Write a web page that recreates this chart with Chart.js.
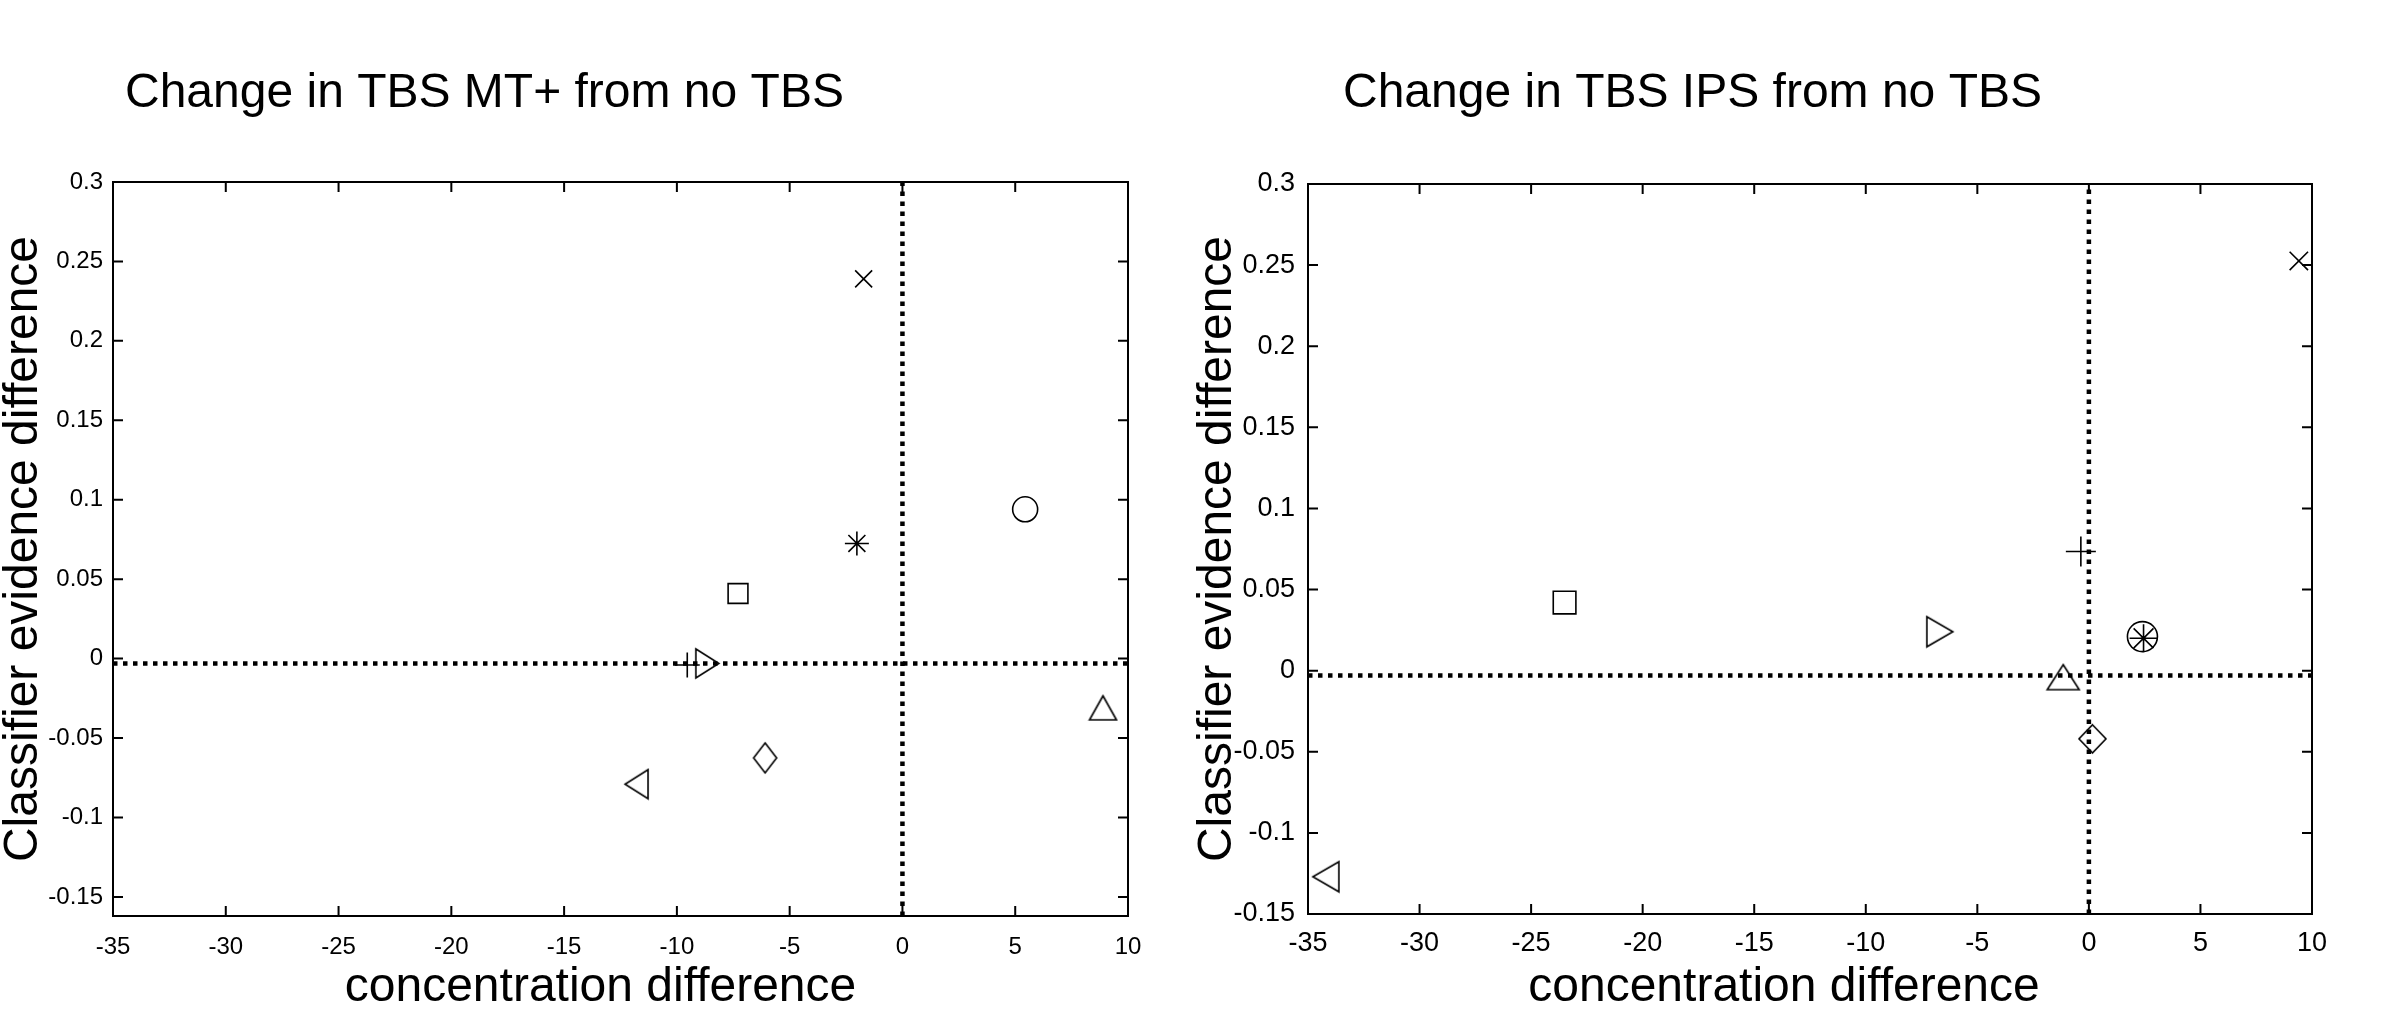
<!DOCTYPE html>
<html><head><meta charset="utf-8">
<script src="https://cdn.jsdelivr.net/npm/chart.js@4.4.1/dist/chart.umd.min.js"></script>
<style>
html,body{margin:0;padding:0;background:#fff;width:2387px;height:1014px;overflow:hidden;position:relative}
canvas{position:absolute;top:0}
#c1{left:0}
#c2{left:1195px}
</style></head><body>
<canvas id="c1" width="1200" height="1014"></canvas>
<canvas id="c2" width="1192" height="1014"></canvas>
<script>
// ---------- data ----------
const panelTitles = ['Change in TBS MT+ from no TBS', 'Change in TBS IPS from no TBS'];
const xAxisTitle = 'concentration difference';
const yAxisTitle = 'Classifier evidence difference';
const seriesNames = ['x-mark', 'circle', 'asterisk', 'square', 'plus', 'triangle right', 'triangle up', 'diamond', 'triangle left'];
const mtX  = [-1.72, 5.44, -2.02, -7.29, -9.54, -8.65, 8.89, -6.09, -11.79];
const mtY  = [0.239, 0.094, 0.0725, 0.041, -0.004, -0.003, -0.031, -0.0625, -0.079];
const ipsX = [9.41, 2.40, 2.45, -23.5, -0.36, -6.68, -1.15, 0.16, -34.2];
const ipsY = [0.2526, 0.021, 0.020, 0.042, 0.0735, 0.024, -0.004, -0.042, -0.127];
const xRange = [-35, 10];
const mtYRange = [-0.162, 0.3];
const ipsYRange = [-0.15, 0.3];
const xTickValues = [-35, -30, -25, -20, -15, -10, -5, 0, 5, 10];
const xTickLabels = ['-35', '-30', '-25', '-20', '-15', '-10', '-5', '0', '5', '10'];
const yTickValues = [-0.15, -0.1, -0.05, 0, 0.05, 0.1, 0.15, 0.2, 0.25, 0.3];
const yTickLabels = ['-0.15', '-0.1', '-0.05', '0', '0.05', '0.1', '0.15', '0.2', '0.25', '0.3'];
const zeroLineX = 0;
const zeroLineY = -0.003;

// ---------- marker styles ----------
function markerCanvas(kind, w, h) {
  const pad = 2;
  const c = document.createElement('canvas');
  c.width = Math.ceil(w + 2 * pad);
  c.height = Math.ceil(h + 2 * pad);
  const g = c.getContext('2d');
  g.strokeStyle = '#000';
  g.lineWidth = 1.6;
  g.lineJoin = 'miter';
  const L = pad, T = pad, R = pad + w, B = pad + h, cx = pad + w / 2, cy = pad + h / 2;
  g.beginPath();
  if (kind === 'right') { g.moveTo(L, T); g.lineTo(R, cy); g.lineTo(L, B); }
  else if (kind === 'left') { g.moveTo(R, T); g.lineTo(L, cy); g.lineTo(R, B); }
  else if (kind === 'up') { g.moveTo(cx, T); g.lineTo(R, B); g.lineTo(L, B); }
  else if (kind === 'diamond') { g.moveTo(cx, T); g.lineTo(R, cy); g.lineTo(cx, B); g.lineTo(L, cy); }
  g.closePath();
  g.stroke();
  return c;
}

const mtStyles = ['crossRot', 'circle', 'star', 'rect', 'cross',
  markerCanvas('right', 23, 29), markerCanvas('up', 27, 24), markerCanvas('diamond', 23, 30), markerCanvas('left', 23, 29)];
const ipsStyles = ['crossRot', 'circle', 'star', 'rect', 'cross',
  markerCanvas('right', 26, 30), markerCanvas('up', 32, 25), markerCanvas('diamond', 27, 28), markerCanvas('left', 26, 30)];
const mtSizes  = [12, 12.5, 12, 14, 12.5, 15, 15, 15, 15];
const ipsSizes = [13, 15, 14, 16, 15, 15, 15, 15, 15];

const matlabAxes = {
  id: 'matlabAxes',
  afterLayout(chart, args, opts) {
    if (chart.titleBlock) {
      chart.titleBlock.left += opts.titleShift;
      chart.titleBlock.right += opts.titleShift;
    }
    const xs = chart.scales.x;
    if (xs && !xs._titleShiftWrapped) {
      const orig = xs.drawTitle;
      const s = opts.xTitleShift;
      xs.drawTitle = function () {
        this.left += s; this.right += s;
        try { orig.call(this); } finally { this.left -= s; this.right -= s; }
      };
      xs._titleShiftWrapped = true;
    }
  },
  afterDatasetsDraw(chart, args, opts) {
    const {ctx, chartArea: a, scales: {x, y}} = chart;
    const L = opts.tickLen;
    ctx.save();
    ctx.strokeStyle = '#000';
    ctx.lineWidth = 2;
    ctx.beginPath();
    x.ticks.forEach(t => {
      const p = x.getPixelForValue(t.value);
      ctx.moveTo(p, a.bottom); ctx.lineTo(p, a.bottom - L);
      ctx.moveTo(p, a.top); ctx.lineTo(p, a.top + L);
    });
    y.ticks.forEach(t => {
      const p = y.getPixelForValue(t.value);
      ctx.moveTo(a.left, p); ctx.lineTo(a.left + L, p);
      ctx.moveTo(a.right, p); ctx.lineTo(a.right - L, p);
    });
    ctx.stroke();
    ctx.strokeRect(a.left, a.top, a.right - a.left, a.bottom - a.top);
    ctx.restore();
  }
};

function makeChart(id, title, xs, ys, yRange, styles, sizes, cfg) {
  const datasets = [
    {
      label: 'x = 0',
      data: [{x: zeroLineX, y: yRange[0]}, {x: zeroLineX, y: yRange[1]}],
      showLine: true, pointRadius: 0, borderColor: '#000', borderWidth: 4.5,
      borderDash: [4.5, 5.5], borderCapStyle: 'butt', fill: false
    },
    {
      label: 'y = 0',
      data: [{x: xRange[0], y: zeroLineY}, {x: xRange[1], y: zeroLineY}],
      showLine: true, pointRadius: 0, borderColor: '#000', borderWidth: 4.5,
      borderDash: [4.5, 5.5], borderCapStyle: 'butt', fill: false
    }
  ];
  seriesNames.forEach((name, i) => {
    datasets.push({
      label: name,
      data: [{x: xs[i], y: ys[i]}],
      pointStyle: styles[i],
      pointRadius: sizes[i],
      pointBorderWidth: 1.6,
      borderColor: '#000',
      backgroundColor: 'rgba(0,0,0,0)',
      showLine: false
    });
  });

  return new Chart(document.getElementById(id), {
    type: 'scatter',
    data: {datasets},
    plugins: [matlabAxes],
    options: {
      responsive: false,
      animation: false,
      devicePixelRatio: 1,
      events: [],
      layout: {padding: {left: 0, top: 0, right: cfg.padRight, bottom: 0}},
      plugins: {
        legend: {display: false},
        tooltip: {enabled: false},
        title: {
          display: true, text: title, align: 'start', fullSize: false, color: '#000',
          font: {family: '"Liberation Sans", Arial, sans-serif', size: 48, weight: 'normal'},
          padding: {top: 65, bottom: cfg.titleBottom}
        },
        matlabAxes: {tickLen: 10, titleShift: cfg.titleShift, xTitleShift: cfg.xTitleShift}
      },
      scales: {
        x: {
          type: 'linear', min: xRange[0], max: xRange[1],
          afterBuildTicks: s => { s.ticks = xTickValues.map(v => ({value: v})); },
          afterFit: s => { s.height = cfg.xAxisHeight; },
          grid: {display: false, drawTicks: false},
          border: {display: false},
          ticks: {
            autoSkip: false, maxRotation: 0, color: '#000', padding: cfg.xTickPad,
            font: {family: '"Liberation Sans", Arial, sans-serif', size: cfg.tickSize},
            callback: (v, i) => xTickLabels[i]
          },
          title: {
            display: true, text: xAxisTitle, color: '#000',
            font: {family: '"Liberation Sans", Arial, sans-serif', size: 48},
            padding: {top: 0, bottom: -3}
          }
        },
        y: {
          type: 'linear', min: yRange[0], max: yRange[1],
          afterBuildTicks: s => { s.ticks = yTickValues.map(v => ({value: v})); },
          afterFit: s => { s.width = 113; },
          grid: {display: false, drawTicks: false},
          border: {display: false},
          ticks: {
            autoSkip: false, color: '#000', padding: cfg.yTickPad,
            font: {family: '"Liberation Sans", Arial, sans-serif', size: cfg.tickSize},
            callback: (v, i) => yTickLabels[i]
          },
          title: {
            display: true, text: yAxisTitle, color: '#000',
            font: {family: '"Liberation Sans", Arial, sans-serif', size: 48},
            padding: {top: cfg.yTitlePad, bottom: 0}
          }
        }
      }
    }
  });
}

makeChart('c1', panelTitles[0], mtX, mtY, mtYRange, mtStyles, mtSizes, {
  padRight: 72, titleBottom: 59.4, titleShift: 12, xTitleShift: -20, xAxisHeight: 98,
  xTickPad: 17, yTickPad: 10, yTitlePad: -5, tickSize: 24
});
makeChart('c2', panelTitles[1], ipsX, ipsY, ipsYRange, ipsStyles, ipsSizes, {
  padRight: 75, titleBottom: 61.4, titleShift: 35, xTitleShift: -26, xAxisHeight: 100,
  xTickPad: 13, yTickPad: 13, yTitlePad: -6, tickSize: 27
});
</script>
</body></html>
